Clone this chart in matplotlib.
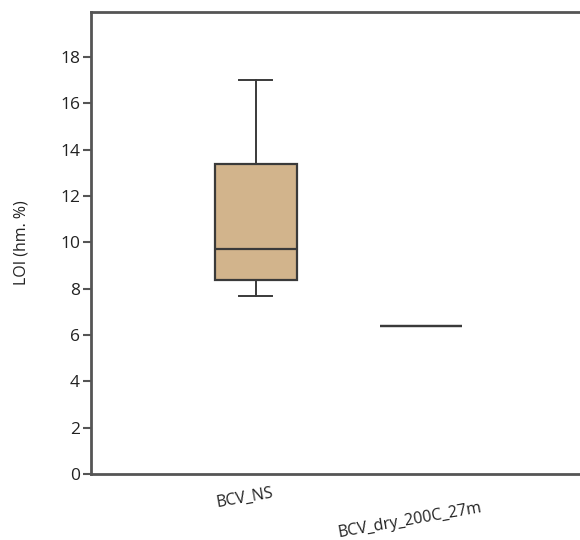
import matplotlib
matplotlib.use("Agg")
import matplotlib.pyplot as plt
import matplotlib.transforms as mtransforms

# LOI summary per sample group (box-plot statistics)
groups    = ["BCV_NS", "BCV_dry_200C_27m"]
whisk_lo  = [7.7, 6.38]
q1        = [8.37, 6.38]
median    = [9.72, 6.38]
q3        = [13.38, 6.38]
whisk_hi  = [17.0, 6.38]

plt.rcParams["font.family"] = ["Open Sans", "DejaVu Sans"]

fig = plt.figure(figsize=(5.8, 5.4), dpi=100)
ax = fig.add_axes([0.157, 0.122, 0.853, 0.856])

stats = [dict(label=g, whislo=lo, q1=a, med=m, q3=b, whishi=hi, fliers=[])
         for g, lo, a, m, b, hi in zip(groups, whisk_lo, q1, median, q3, whisk_hi)]

edge = "#3a3a3a"
ax.bxp(stats, positions=[0, 1], widths=0.5, patch_artist=True, showfliers=False,
       boxprops=dict(facecolor="#d2b48c", edgecolor=edge, linewidth=1.6),
       medianprops=dict(color=edge, linewidth=1.6),
       whiskerprops=dict(color=edge, linewidth=1.4),
       capprops=dict(color=edge, linewidth=1.4),
       capwidths=0.2)

ax.set_xlim(-1, 2)
ax.set_ylim(0, 19.95)
ax.set_yticks(range(0, 19, 2))
ax.set_ylabel("LOI (hm. %)", fontsize=11.5, labelpad=22, color="#222222")

for side in ("top", "left", "bottom"):
    ax.spines[side].set_color("#555555")
    ax.spines[side].set_linewidth(2)
ax.spines["right"].set_visible(False)

ax.tick_params(axis="y", direction="out", length=6, width=1.5, color="#555555",
               labelsize=12.5, labelcolor="#222222", pad=2)
ax.tick_params(axis="x", length=0, labelsize=11.5, labelcolor="#222222", pad=17)

# rotated category labels, nudged left; the long one sits lower
for lbl, dy in zip(ax.get_xticklabels(), [0, -23]):
    shift = mtransforms.ScaledTranslation(-11 / 100, dy / 100, fig.dpi_scale_trans)
    lbl.set_rotation(10)
    lbl.set_rotation_mode("anchor")
    lbl.set_ha("center")
    lbl.set_va("center")
    lbl.set_transform(lbl.get_transform() + shift)

fig.savefig("out.png", dpi=100)
